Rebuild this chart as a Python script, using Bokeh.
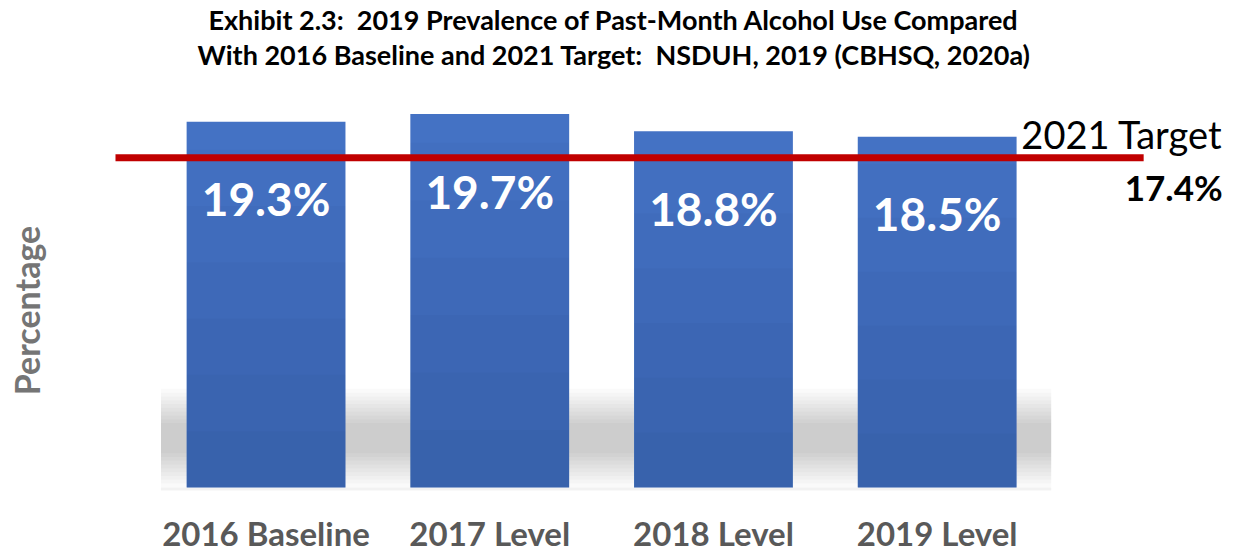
from bokeh.plotting import figure
from bokeh.models import Range1d, Title, ColumnDataSource
from bokeh.core.properties import value
from bokeh.embed import file_html
from bokeh.resources import INLINE

categories = ["2016 Baseline", "2017 Level", "2018 Level", "2019 Level"]
values = [19.3, 19.7, 18.8, 18.5]
value_labels = ["19.3%", "19.7%", "18.8%", "18.5%"]
target = 17.4
target_label = "17.4%"
target_name = "2021 Target"
title_lines = ["Exhibit 2.3:\u00a0 2019 Prevalence of Past-Month Alcohol Use Compared",
               "With 2016 Baseline and 2021 Target:\u00a0 NSDUH, 2019 (CBHSQ, 2020a)"]
title_offsets = [108, 97]

FONT = "Lato"
n = len(categories)
xs = list(range(n))
src = ColumnDataSource(dict(x=xs, top=values, cat=categories, lab=value_labels))

# horizontal extent of the target line, relative to the first/last category
line_x0 = -0.673
line_x1 = n - 1 + 0.923

p = figure(width=1236, height=550, output_backend="svg", toolbar_location=None,
           x_range=Range1d(-0.740, n - 1 + 1.338),
           y_range=Range1d(-3.33, 22.0),
           x_axis_location=None, y_axis_location="left",
           min_border_left=100, min_border_right=0, min_border_top=66, min_border_bottom=0)
p.outline_line_color = None
p.xgrid.visible = False
p.ygrid.visible = False

for line, off in reversed(list(zip(title_lines, title_offsets))):
    t = Title(text=line, align="left", offset=off, text_font=FONT, text_font_style="bold",
              text_font_size="27px", text_color="#000000", standoff=0)
    p.add_layout(t, "above")

yax = p.yaxis[0]
yax.ticker = []
yax.axis_line_color = None
yax.major_tick_line_color = None
yax.minor_tick_line_color = None
yax.axis_label = "Percentage"
yax.axis_label_text_font = FONT
yax.axis_label_text_font_style = "bold"
yax.axis_label_text_font_size = "34px"
yax.axis_label_text_color = "#757575"
yax.axis_label_standoff = 54

# soft shadow behind the bars (layered translucent bands)
shadow_bottoms = [0.0, 0.2, 0.4, 0.6, 0.8, 1.0, 1.2, 1.4, 1.6, 1.8]
shadow_tops = [5.2, 5.0, 4.8, 4.6, 4.4, 4.2, 4.0, 3.8, 3.6, 3.4]
for b, t in zip(shadow_bottoms, shadow_tops):
    p.quad(left=-0.47, right=n - 1 + 0.51, bottom=b, top=t,
           fill_color="#000000", fill_alpha=0.021, line_color=None)
p.quad(left=-0.47, right=n - 1 + 0.51, bottom=-0.16, top=0,
       fill_color="#000000", fill_alpha=0.05, line_color=None)

p.vbar(x="x", top="top", bottom=0, width=0.71, source=src,
       fill_color="#4472C4", line_color=None)
# subtle darkening toward the bottom of each bar
for k in range(1, 7):
    p.vbar(x=xs, top=[v * k / 6.5 for v in values], bottom=0, width=0.71,
           fill_color="#000000", fill_alpha=0.02, line_color=None)

p.segment(x0=line_x0, x1=line_x1, y0=target, y1=target, line_color="#C00000", line_width=7)

p.text(x="x", y="top", text="lab", source=src, text_color="white",
       text_font=value(FONT), text_font_style="bold", text_font_size="46px",
       text_align="center", text_baseline="middle", y_offset=77)

p.text(x="x", y=0, text="cat", source=src, text_color="#595959",
       text_font=value(FONT), text_font_style="bold", text_font_size="33px",
       text_align="center", text_baseline="middle", y_offset=46)

p.text(x=[line_x1], y=[target], text=[target_name], x_offset=79, y_offset=-24,
       text_align="right", text_baseline="middle", text_font=value(FONT),
       text_font_size="38px", text_color="#000000")
p.text(x=[line_x1], y=[target], text=[target_label], x_offset=79, y_offset=29,
       text_align="right", text_baseline="middle", text_font=value(FONT),
       text_font_style="bold", text_font_size="35px", text_color="#000000")

open("out.html", "w").write(file_html(p, INLINE))
